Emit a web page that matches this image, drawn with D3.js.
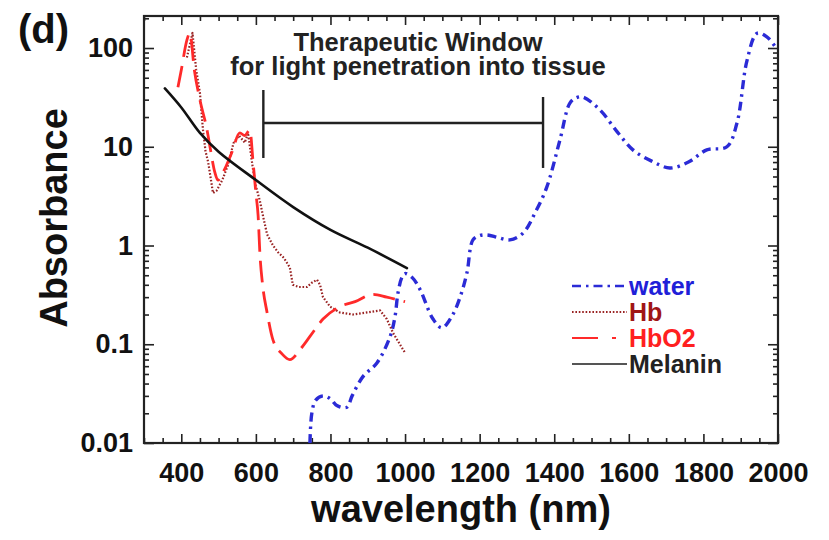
<!DOCTYPE html>
<html>
<head>
<meta charset="utf-8">
<script src="https://cdn.jsdelivr.net/npm/d3@7/dist/d3.min.js"></script>
<style>
  body { margin: 0; background: #fff; }
  svg { display: block; font-family: "Liberation Sans", Arial, sans-serif; font-weight: bold; }
</style>
</head>
<body>
<svg id="chart" width="829" height="540"></svg>
<script>
// ---- data ----
var xTickValues = [ 400, 600, 800, 1000, 1200, 1400, 1600, 1800, 2000 ],
	yTickValues = [ 0.01, 0.1, 1, 10, 100 ];

var waterNm  = [ 745, 750, 760, 780, 800, 817, 844, 858, 887, 925, 960, 973, 981, 992, 1000, 1020, 1040, 1075, 1099, 1128, 1150, 1166, 1182, 1200, 1220, 1250, 1281, 1316, 1350, 1380, 1415, 1442, 1460, 1477, 1523, 1570, 1611, 1660, 1710, 1760, 1809, 1863, 1890, 1917, 1944, 1970, 1995 ],
	waterAbs = [ 0.01, 0.02, 0.027, 0.03, 0.028, 0.024, 0.023, 0.03, 0.047, 0.065, 0.12, 0.19, 0.33, 0.48, 0.52, 0.47, 0.36, 0.18, 0.147, 0.2, 0.32, 0.53, 1.14, 1.26, 1.28, 1.2, 1.14, 1.33, 2.2, 3.9, 11.6, 27.7, 31.5, 31.9, 23.5, 14, 9.3, 7.2, 6.1, 7, 9.3, 10, 17.4, 75, 141, 130, 100 ];

var hbNm  = [ 415, 430, 440, 450, 458, 465, 472, 480, 485, 495, 510, 525, 540, 555, 570, 579, 584, 592, 600, 611, 619, 630, 646, 660, 675, 691, 699, 715, 737, 750, 764, 772, 780, 799, 825, 860, 898, 933, 951, 968, 986, 1000 ],
	hbAbs = [ 80, 142, 60, 35, 15, 9, 7, 4.5, 3.4, 3.6, 4.6, 6.5, 10.9, 13, 11, 13.8, 10, 6, 4, 2.8, 2, 1.3, 1.0, 0.85, 0.75, 0.6, 0.4, 0.38, 0.38, 0.42, 0.45, 0.4, 0.3, 0.24, 0.21, 0.2, 0.21, 0.22, 0.18, 0.13, 0.1, 0.082 ];

var hbo2Nm  = [ 391, 400, 415, 423, 435, 450, 469, 477, 490, 498, 515, 535, 557, 570, 584, 592, 600, 606, 611, 618, 630, 646, 670, 691, 720, 745, 780, 825, 866, 914, 951, 1000 ],
	hbo2Abs = [ 40, 60, 120, 142, 60, 29.8, 14.8, 9.95, 5.5, 4.6, 5.8, 8.65, 13.8, 13, 14.8, 7.35, 3.4, 2, 0.8, 0.4, 0.21, 0.11, 0.08, 0.07, 0.09, 0.12, 0.18, 0.24, 0.27, 0.32, 0.3, 0.27 ];

var melaninNm  = [ 356, 400, 450, 500, 600, 700, 800, 900, 1005 ],
	melaninAbs = [ 39, 25, 13.8, 8.9, 4.6, 2.45, 1.44, 0.95, 0.59 ];

// therapeutic window bracket (nm, absorbance)
var windowNm = [ 620, 1370 ],
	windowLevel = 17.4,
	windowLeftSpan = [ 7.7, 37.6 ],
	windowRightSpan = [ 6.1, 31.9 ];

var seriesNames = [ 'water', 'Hb', 'HbO2', 'Melanin' ];

// ---- layout ----
var plotLeft = 144, plotRight = 778, plotTop = 16, plotBottom = 443;

var svg = d3.select( '#chart' );

var x = d3.scaleLinear().domain( [ 300, 2000 ] ).range( [ plotLeft, plotRight ] ),
	y = d3.scaleLog().domain( [ 0.01, 211 ] ).range( [ plotBottom, plotTop ] );

var styles = {
	'water':   { color: '#2b2bd6', width: 3.4, dash: '9,5,2.5,5', cap: 'butt', curve: d3.curveCatmullRom },
	'Hb':      { color: '#9a2424', width: 2.2, dash: '1.6,1.8', cap: 'butt', curve: d3.curveLinear },
	'HbO2':    { color: '#ff2a2a', width: 2.8, dash: '22,9', cap: 'butt', curve: d3.curveMonotoneX },
	'Melanin': { color: '#111111', width: 2.6, dash: null, cap: 'round', curve: d3.curveCatmullRom }
};
var legendColors = { 'water': '#2020d8', 'Hb': '#a01515', 'HbO2': '#ff2020', 'Melanin': '#222222' };

var seriesData = {
	'water': d3.zip( waterNm, waterAbs ),
	'Hb': d3.zip( hbNm, hbAbs ),
	'HbO2': d3.zip( hbo2Nm, hbo2Abs ),
	'Melanin': d3.zip( melaninNm, melaninAbs )
};

svg.append( 'clipPath' ).attr( 'id', 'plotclip' )
	.append( 'rect' )
	.attr( 'x', plotLeft ).attr( 'y', plotTop )
	.attr( 'width', plotRight - plotLeft ).attr( 'height', plotBottom - plotTop );

// ---- axes: ticks point inwards on all four sides ----
var minorX = d3.range( 300, 2001, 50 ).filter( function( d ) { return d % 200 !== 0; } ),
	minorY = [];
yTickValues.forEach( function( p ) {
	for ( var k = 2; k <= 9; k++ ) {
		if ( p * k <= 211 ) minorY.push( p * k );
	}
} );

function styleAxis( g ) {
	g.select( '.domain' ).remove();
	g.selectAll( 'line' ).attr( 'stroke', '#222' ).attr( 'stroke-width', 1.6 );
	g.selectAll( 'text' ).attr( 'fill', '#111' ).attr( 'font-size', 27 )
		.attr( 'font-weight', 'bold' ).attr( 'font-family', '"Liberation Sans", Arial, sans-serif' );
}

svg.append( 'g' ).attr( 'transform', 'translate(0,' + plotBottom + ')' )
	.call( d3.axisBottom( x ).tickValues( xTickValues ).tickSize( -9 ).tickPadding( 20 ).tickFormat( d3.format( 'd' ) ) )
	.call( styleAxis );
svg.append( 'g' ).attr( 'transform', 'translate(0,' + plotBottom + ')' )
	.call( d3.axisBottom( x ).tickValues( minorX ).tickSize( -5 ).tickFormat( '' ) )
	.call( styleAxis );
svg.append( 'g' ).attr( 'transform', 'translate(0,' + plotTop + ')' )
	.call( d3.axisTop( x ).tickValues( xTickValues ).tickSize( -9 ).tickFormat( '' ) )
	.call( styleAxis );
svg.append( 'g' ).attr( 'transform', 'translate(0,' + plotTop + ')' )
	.call( d3.axisTop( x ).tickValues( minorX ).tickSize( -5 ).tickFormat( '' ) )
	.call( styleAxis );

svg.append( 'g' ).attr( 'transform', 'translate(' + plotLeft + ',0)' )
	.call( d3.axisLeft( y ).tickValues( yTickValues ).tickSize( -10 ).tickPadding( 11 ).tickFormat( function( d ) { return String( d ); } ) )
	.call( styleAxis );
svg.append( 'g' ).attr( 'transform', 'translate(' + plotLeft + ',0)' )
	.call( d3.axisLeft( y ).tickValues( minorY ).tickSize( -5 ).tickFormat( '' ) )
	.call( styleAxis );
svg.append( 'g' ).attr( 'transform', 'translate(' + plotRight + ',0)' )
	.call( d3.axisRight( y ).tickValues( yTickValues ).tickSize( -10 ).tickFormat( '' ) )
	.call( styleAxis );
svg.append( 'g' ).attr( 'transform', 'translate(' + plotRight + ',0)' )
	.call( d3.axisRight( y ).tickValues( minorY ).tickSize( -5 ).tickFormat( '' ) )
	.call( styleAxis );

svg.append( 'rect' )
	.attr( 'x', plotLeft ).attr( 'y', plotTop )
	.attr( 'width', plotRight - plotLeft ).attr( 'height', plotBottom - plotTop )
	.attr( 'fill', 'none' ).attr( 'stroke', '#222' ).attr( 'stroke-width', 2.2 );

// ---- curves ----
var plot = svg.append( 'g' ).attr( 'clip-path', 'url(#plotclip)' );

seriesNames.forEach( function( name ) {
	var s = styles[ name ],
		line = d3.line()
			.x( function( d ) { return x( d[ 0 ] ); } )
			.y( function( d ) { return y( d[ 1 ] ); } )
			.curve( s.curve );

	plot.append( 'path' )
		.datum( seriesData[ name ] )
		.attr( 'd', line )
		.attr( 'fill', 'none' )
		.attr( 'stroke', s.color )
		.attr( 'stroke-width', s.width )
		.attr( 'stroke-linecap', s.cap )
		.attr( 'stroke-linejoin', 'round' )
		.attr( 'stroke-dasharray', s.dash );
} );

// ---- therapeutic window bracket ----
var bracket = svg.append( 'g' ).attr( 'stroke', '#222' ).attr( 'stroke-width', 2.4 );
bracket.append( 'line' )
	.attr( 'x1', x( windowNm[ 0 ] ) ).attr( 'x2', x( windowNm[ 1 ] ) )
	.attr( 'y1', y( windowLevel ) ).attr( 'y2', y( windowLevel ) );
bracket.append( 'line' )
	.attr( 'x1', x( windowNm[ 0 ] ) ).attr( 'x2', x( windowNm[ 0 ] ) )
	.attr( 'y1', y( windowLeftSpan[ 0 ] ) ).attr( 'y2', y( windowLeftSpan[ 1 ] ) );
bracket.append( 'line' )
	.attr( 'x1', x( windowNm[ 1 ] ) ).attr( 'x2', x( windowNm[ 1 ] ) )
	.attr( 'y1', y( windowRightSpan[ 0 ] ) ).attr( 'y2', y( windowRightSpan[ 1 ] ) );

svg.append( 'text' )
	.attr( 'x', 418 ).attr( 'y', 51 )
	.attr( 'text-anchor', 'middle' ).attr( 'font-size', 25.5 ).attr( 'fill', '#222' )
	.text( 'Therapeutic Window' );
svg.append( 'text' )
	.attr( 'x', 418 ).attr( 'y', 75 )
	.attr( 'text-anchor', 'middle' ).attr( 'font-size', 25.5 ).attr( 'fill', '#222' )
	.text( 'for light penetration into tissue' );

// ---- legend ----
var legend = svg.append( 'g' ).attr( 'transform', 'translate(572,286)' );
seriesNames.forEach( function( name, i ) {
	var s = styles[ name ],
		row = legend.append( 'g' ).attr( 'transform', 'translate(0,' + ( i * 26 ) + ')' );

	row.append( 'line' )
		.attr( 'x1', 0 ).attr( 'x2', 55 )
		.attr( 'stroke', name === 'Melanin' ? '#555' : s.color )
		.attr( 'stroke-width', name === 'Melanin' ? 2 : s.width * 0.8 )
		.attr( 'stroke-dasharray', name === 'HbO2' ? '26,14,4,20' : s.dash );

	row.append( 'text' )
		.attr( 'x', 57 ).attr( 'dy', '0.36em' )
		.attr( 'font-size', 25 ).attr( 'fill', legendColors[ name ] )
		.text( name );
} );

// ---- titles ----
svg.append( 'text' )
	.attr( 'x', 18 ).attr( 'y', 43 )
	.attr( 'font-size', 40 ).attr( 'fill', '#111' )
	.text( '(d)' );

svg.append( 'text' )
	.attr( 'transform', 'translate(67,218) rotate(-90)' )
	.attr( 'text-anchor', 'middle' ).attr( 'font-size', 38 ).attr( 'fill', '#111' )
	.text( 'Absorbance' );

svg.append( 'text' )
	.attr( 'x', ( plotLeft + plotRight ) / 2 ).attr( 'y', 522 )
	.attr( 'text-anchor', 'middle' ).attr( 'font-size', 38 ).attr( 'fill', '#111' )
	.text( 'wavelength (nm)' );
</script>
</body>
</html>
